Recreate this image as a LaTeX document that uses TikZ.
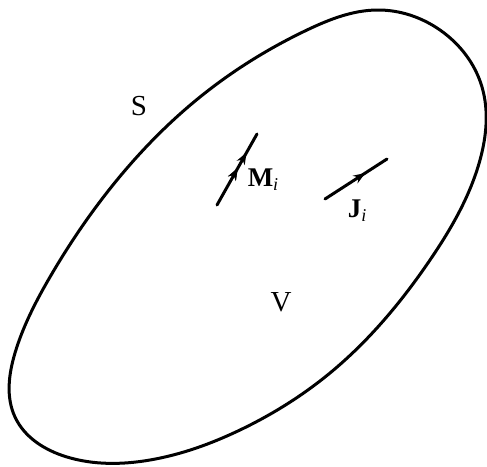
\documentclass[tikz,border=0pt]{standalone}
\usepackage{fontspec}
\setmainfont{Liberation Serif}
\usetikzlibrary{arrows.meta,decorations.markings,hobby}
\tikzset{
  boundary/.style={line width=3pt, line join=round},
  current/.style={line width=3pt, line cap=round},
  tipmark/.style={decoration={markings, mark=at position #1 with {\arrow{Stealth[length=12pt,width=9pt]}}}, postaction={decorate}},
  biglabel/.style={font=\fontsize{29}{29}\selectfont, inner sep=0pt},
  veclabel/.style={font=\fontsize{27}{27}\selectfont\bfseries, inner sep=0pt}
}
\begin{document}
\begin{tikzpicture}[x=1pt,y=-1pt]
\useasboundingbox (0,0) rectangle (487,466);
\draw[boundary] plot[closed hobby] coordinates {
 (377,10) (440,30) (482,87) (480,160) (430,260) (330,373)
 (240,430) (150,460) (67,457) (15,417) (15,353) (50,277)
 (117,180) (200,97) (307,30)};
\coordinate (m1) at (217,205);
\coordinate (m2) at (257,134);
\coordinate (j1) at (325,199);
\coordinate (j2) at (387,159);
\draw[current, tipmark=0.52, postaction={decorate, decoration={markings, mark=at position 0.74 with {\arrow{Stealth[length=12pt,width=9pt]}}}}] (m1) -- (m2);
\draw[current, tipmark=0.65] (j1) -- (j2);
\node[veclabel] (ml) at (263,180) {M\raisebox{-0.3ex}{\fontsize{18}{18}\selectfont\itshape\mdseries i}};
\node[veclabel] (jl) at (357,211) {J\raisebox{-0.3ex}{\fontsize{18}{18}\selectfont\itshape\mdseries i}};
\node[biglabel] (s) at (139,106) {S};
\node[biglabel] (v) at (281,302) {V};
\end{tikzpicture}
\end{document}
